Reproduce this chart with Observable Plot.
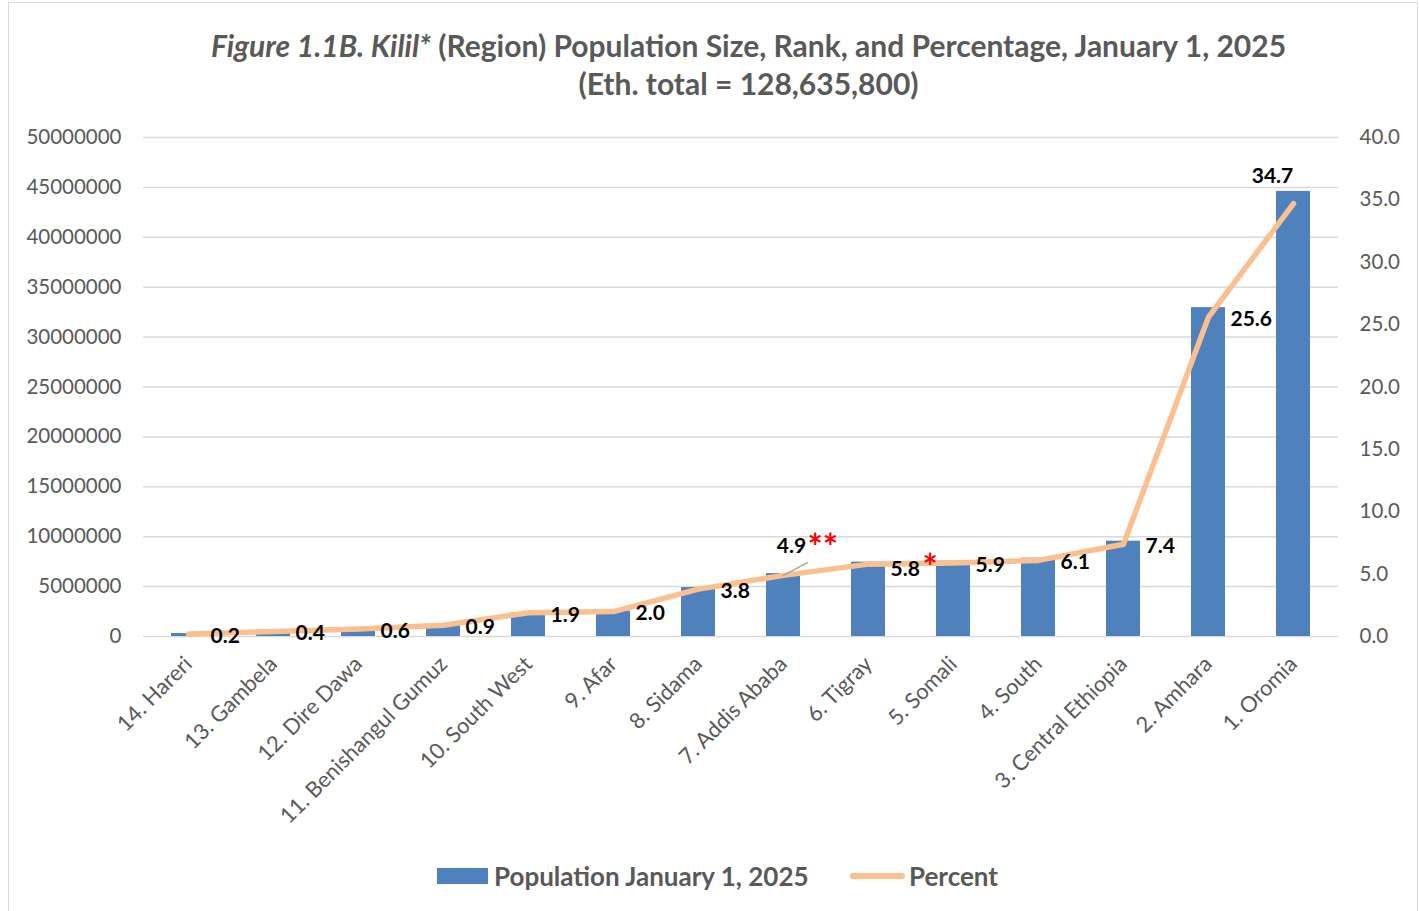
<!DOCTYPE html>
<html><head><meta charset="utf-8">
<script src="https://cdn.jsdelivr.net/npm/d3@7"></script>
<script src="https://cdn.jsdelivr.net/npm/@observablehq/plot@0.6"></script>
<style>
body{margin:0;background:#fff;font-family:Lato,sans-serif;width:1419px;height:911px;overflow:hidden;position:relative;}
#frame{position:absolute;left:8px;top:2px;width:1410px;height:930px;border:1.5px solid #d9d9d9;box-sizing:border-box;}
#title{position:absolute;left:39px;top:26px;width:1419px;text-align:center;color:#595959;font-weight:700;font-size:30px;line-height:38px;white-space:nowrap;}
#chart{position:absolute;left:0;top:110px;}
#legend{position:absolute;left:0;top:860px;width:1419px;height:32px;color:#595959;font-weight:700;font-size:26px;}
.sw{position:absolute;}
.lt{position:absolute;top:0px;line-height:32px;white-space:nowrap;}
</style></head>
<body>
<div id="frame"></div>
<div id="title"><i>Figure 1.1B. Kilil*</i> (Region) Population Size, Rank, and Percentage, January 1, 2025<br>(Eth. total = 128,635,800)</div>
<div id="chart"></div>
<div id="legend">
  <div class="sw" style="left:437px;top:8px;width:51px;height:16px;background:#4F81BD"></div>
  <div class="lt" style="left:494px">Population January 1, 2025</div>
  <div class="sw" style="left:850px;top:13px;width:55px;height:6px;border-radius:3px;background:#FAC090"></div>
  <div class="lt" style="left:909px">Percent</div>
</div>
<script>
const regions = ["14. Hareri","13. Gambela","12. Dire Dawa","11. Benishangul Gumuz","10. South West","9. Afar","8. Sidama","7. Addis Ababa","6. Tigray","5. Somali","4. South","3. Central Ethiopia","2. Amhara","1. Oromia"];
const population = [300000, 520000, 720000, 1100000, 2400000, 2550000, 4900000, 6300000, 7450000, 7550000, 7850000, 9550000, 32950000, 44600000];
const percent = [0.2, 0.4, 0.6, 0.9, 1.9, 2.0, 3.8, 4.9, 5.8, 5.9, 6.1, 7.4, 25.6, 34.7];
const popTicks = [0, 5000000, 10000000, 15000000, 20000000, 25000000, 30000000, 35000000, 40000000, 45000000, 50000000];
const pctTicks = [0, 5, 10, 15, 20, 25, 30, 35, 40];
const notes = [{region: "7. Addis Ababa", note: "**"}, {region: "6. Tigray", note: "*"}];

const popMax = 50000000, pctMax = 40;
const k = popMax / pctMax; // maps percent onto the population axis
const data = regions.map((r, i) => ({region: r, pop: population[i], pct: percent[i]}));
const pctY = d => d.pct * k;
const special = new Set(["7. Addis Ababa", "1. Oromia", "6. Tigray"]);
const noteData = notes.map(n => ({...n, pct: data.find(d => d.region === n.region).pct}));

const gray = "#595959";
const chart = Plot.plot({
  width: 1419, height: 735,
  marginTop: 27, marginBottom: 209, marginLeft: 143, marginRight: 81,
  style: {fontFamily: "Lato, sans-serif", background: "transparent", overflow: "visible"},
  x: {type: "band", domain: regions, paddingInner: 0.6, paddingOuter: 0.3},
  y: {domain: [0, popMax]},
  marks: [
    Plot.gridY(popTicks, {stroke: "#d9d9d9", strokeOpacity: 1, strokeWidth: 1.5}),
    Plot.axisY(popTicks, {anchor: "left", tickSize: 0, tickPadding: 22, tickFormat: d => String(d), fontSize: 20.5, fill: gray, label: null}),
    Plot.axisY(pctTicks.map(v => v * k), {anchor: "right", tickSize: 0, tickPadding: 21, tickFormat: d => (d / k).toFixed(1), fontSize: 20.5, fill: gray, label: null}),
    Plot.axisX({tickSize: 0, tickPadding: 24, tickRotate: -45, fontSize: 21.8, fill: gray, label: null}),
    Plot.barY(data, {x: "region", y: "pop", fill: "#4F81BD"}),
    Plot.line(data, {x: "region", y: pctY, stroke: "#FAC090", strokeWidth: 5.5, strokeLinejoin: "round", strokeLinecap: "round"}),
    Plot.text(data.filter(d => !special.has(d.region)), {x: "region", y: pctY, text: d => d.pct.toFixed(1), textAnchor: "start", dx: 22, dy: 2, fontSize: 21, fontWeight: 700, fill: "black"}),
    Plot.text(data.filter(d => d.region === "6. Tigray"), {x: "region", y: pctY, text: d => d.pct.toFixed(1), textAnchor: "start", dx: 22, dy: 5, fontSize: 21, fontWeight: 700, fill: "black"}),
    Plot.text(data.filter(d => d.region === "7. Addis Ababa"), {x: "region", y: pctY, text: d => d.pct.toFixed(1), textAnchor: "middle", dx: 8, dy: -29, fontSize: 21, fontWeight: 700, fill: "black"}),
    Plot.vector(data.filter(d => d.region === "7. Addis Ababa"), {x: "region", y: pctY, length: 27, rotate: 62, anchor: "start", stroke: "#a6a6a6", strokeWidth: 1.5,
      shape: {draw(context, l) { context.moveTo(0, 0); context.lineTo(0, -l); }}}),
    Plot.text(data.filter(d => d.region === "1. Oromia"), {x: "region", y: pctY, text: d => d.pct.toFixed(1), textAnchor: "middle", dx: -21, dy: -27, fontSize: 21, fontWeight: 700, fill: "black"}),
    Plot.text(noteData.filter(d => d.note === "**"), {x: "region", y: pctY, text: "note", textAnchor: "start", dx: 24, dy: -27, fontSize: 36, fontWeight: 700, fill: "#FF0000", letterSpacing: "1px"}),
    Plot.text(noteData.filter(d => d.note === "*"), {x: "region", y: pctY, text: "note", textAnchor: "start", dx: 54, dy: 4, fontSize: 36, fontWeight: 700, fill: "#FF0000"})
  ]
});
document.getElementById("chart").appendChild(chart);
</script>
</body></html>
